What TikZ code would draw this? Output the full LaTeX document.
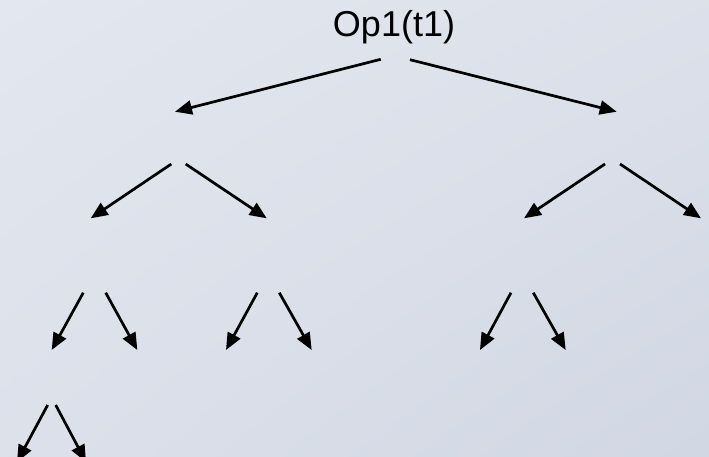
\documentclass[tikz,border=0pt]{standalone}
\usepackage{fontspec}
\setmainfont{Liberation Sans}
\usetikzlibrary{arrows.meta,shadings}
\definecolor{bgA}{RGB}{227,231,239}
\definecolor{bgB}{RGB}{209,215,227}
\begin{document}
\begin{tikzpicture}[x=1pt,y=-1pt,
  edge/.style={line width=2.7pt,-{Triangle[length=17pt,width=14pt]}}]
\shade[upper left=bgA,upper right=bgA!60!bgB,lower left=bgA!60!bgB,lower right=bgB] (0,0) rectangle (709,456);
\useasboundingbox (0,0) rectangle (709,456);
\node[anchor=base,inner sep=0pt,font=\fontsize{36}{40}\selectfont] (root) at (394,36.7) {Op1(t1)};
% level 1
\coordinate (r1) at (380.7,59.3); \coordinate (r2) at (410,59.7);
\coordinate (a) at (175,111.7); \coordinate (b) at (616.7,111.7);
\draw[edge] (r1) -- (a);
\draw[edge] (r2) -- (b);
% level 2
\coordinate (a1) at (171.3,164); \coordinate (a2) at (185.7,164);
\coordinate (aa) at (90.7,218.3); \coordinate (ab) at (266.7,218.3);
\draw[edge] (a1) -- (aa);
\draw[edge] (a2) -- (ab);
\coordinate (b1) at (605,164); \coordinate (b2) at (620,164);
\coordinate (ba) at (524,218.3); \coordinate (bb) at (701,218.3);
\draw[edge] (b1) -- (ba);
\draw[edge] (b2) -- (bb);
% level 3
\coordinate (aa1) at (83.3,292.7); \coordinate (aa2) at (105.7,292.7);
\coordinate (aaa) at (51.7,350); \coordinate (aab) at (137.3,350);
\draw[edge] (aa1) -- (aaa);
\draw[edge] (aa2) -- (aab);
\coordinate (ab1) at (257.3,292.7); \coordinate (ab2) at (279.3,292.7);
\coordinate (aba) at (226,350); \coordinate (abb) at (311.7,350);
\draw[edge] (ab1) -- (aba);
\draw[edge] (ab2) -- (abb);
\coordinate (ba1) at (511,292.7); \coordinate (ba2) at (533.3,292.7);
\coordinate (baa) at (480,350); \coordinate (bab) at (565.7,350);
\draw[edge] (ba1) -- (baa);
\draw[edge] (ba2) -- (bab);
% level 4
\coordinate (aaa1) at (47.7,405); \coordinate (aaa2) at (55.7,405);
\coordinate (aaaa) at (17,462); \coordinate (aaab) at (86,462);
\draw[edge] (aaa1) -- (aaaa);
\draw[edge] (aaa2) -- (aaab);
\end{tikzpicture}
\end{document}
